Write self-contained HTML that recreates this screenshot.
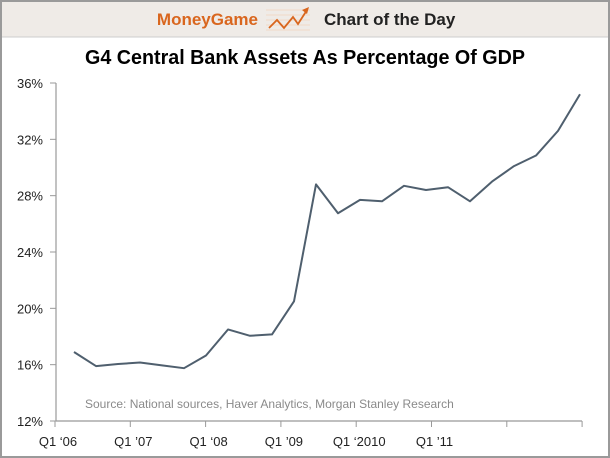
<!DOCTYPE html>
<html><head><meta charset="utf-8"><style>
html,body{margin:0;padding:0;background:#fff;}
svg{display:block;font-family:"Liberation Sans",Arial,sans-serif;}
</style></head><body>
<svg width="610" height="458" viewBox="0 0 610 458">
<rect x="0" y="0" width="610" height="458" fill="#fff"/>
<rect x="0" y="0" width="610" height="37" fill="#efebe7"/>
<line x1="0" y1="37" x2="610" y2="37" stroke="#ccc"/>
<text x="258" y="25" text-anchor="end" font-size="17" font-weight="bold" fill="#d9661e">MoneyGame</text>
<g>
<g stroke="#f3c9a8" stroke-width="0.6"><line x1="266" y1="10" x2="310" y2="10"/><line x1="266" y1="15" x2="310" y2="15"/><line x1="266" y1="20" x2="310" y2="20"/><line x1="266" y1="25" x2="310" y2="25"/><line x1="266" y1="30" x2="310" y2="30"/></g>
<polyline points="269,28 277,20 284,28 293,17 298,24 307,10" fill="none" stroke="#d9661e" stroke-width="1.8"/>
<polygon points="309,7 302,10 307,14" fill="#d9661e"/>
</g>
<text x="324" y="25" font-size="17" font-weight="bold" fill="#222">Chart of the Day</text>
<text x="305" y="64" text-anchor="middle" font-size="20" font-weight="bold" fill="#000" textLength="440" lengthAdjust="spacingAndGlyphs">G4 Central Bank Assets As Percentage Of GDP</text>
<g id="axes"></g>
<g id="plot"></g>
<text x="85" y="408" font-size="12" fill="#8a8a8a">Source: National sources, Haver Analytics, Morgan Stanley Research</text>
<rect x="1" y="1" width="608" height="456" fill="none" stroke="#9a9a9a" stroke-width="2"/>
</svg>
<script>
const yTicks = [12, 16, 20, 24, 28, 32, 36];
const xLabels = ["Q1 \u201806", "Q1 \u201907", "Q1 \u201808", "Q1 \u201909", "Q1 \u20182010", "Q1 \u201911"];
const quarters = ["Q1'06","Q2'06","Q3'06","Q4'06","Q1'07","Q2'07","Q3'07","Q4'07","Q1'08","Q2'08","Q3'08","Q4'08","Q1'09","Q2'09","Q3'09","Q4'09","Q1'10","Q2'10","Q3'10","Q4'10","Q1'11","Q2'11","Q3'11","Q4'11"];
const assets = [16.9, 15.9, 16.05, 16.15, 15.95, 15.75, 16.65, 18.5, 18.05, 18.15, 20.5, 28.8, 26.75, 27.7, 27.6, 28.7, 28.4, 28.6, 27.6, 29.0, 30.1, 30.85, 32.6, 35.2];
const NS = "http://www.w3.org/2000/svg";
function el(tag, attrs, parent){const e=document.createElementNS(NS,tag);for(const k in attrs)e.setAttribute(k,attrs[k]);parent.appendChild(e);return e;}
const y = v => 421 - (v - 12) * (338 / 24);
const xq = i => 74 + i * 22.0;
const xt = k => 55 + k * 75.3;
const axes = document.getElementById('axes');
const plot = document.getElementById('plot');
const yAxis = el('line',{x1:56,y1:83,x2:56,y2:421,stroke:'#999','stroke-width':1.2},axes);


const xAxis = el('line',{x1:56,y1:421,x2:582,y2:421,stroke:'#999','stroke-width':1.2},axes);


yTicks.forEach(v=>{
  el('line',{x1:50,y1:y(v),x2:56,y2:y(v),stroke:'#999'},axes);
  const t=el('text',{x:43,y:y(v)+5,'text-anchor':'end','font-size':13,fill:'#222'},axes);
  t.textContent=v+'%';
  
  
});
for(let k=0;k<8;k++){el('line',{x1:xt(k),y1:421,x2:xt(k),y2:427,stroke:'#999'},axes);}
xLabels.forEach((s,k)=>{
  const t=el('text',{x:xt(k)+3,y:446,'text-anchor':'middle','font-size':13,fill:'#222'},axes);
  t.textContent=s;
  
  
});
const line=el('polyline',{points:assets.map((v,i)=>xq(i)+','+y(v)).join(' '),fill:'none',stroke:'#4f5f6e','stroke-width':2,'stroke-linejoin':'round'},plot);


</script>
</body></html>
